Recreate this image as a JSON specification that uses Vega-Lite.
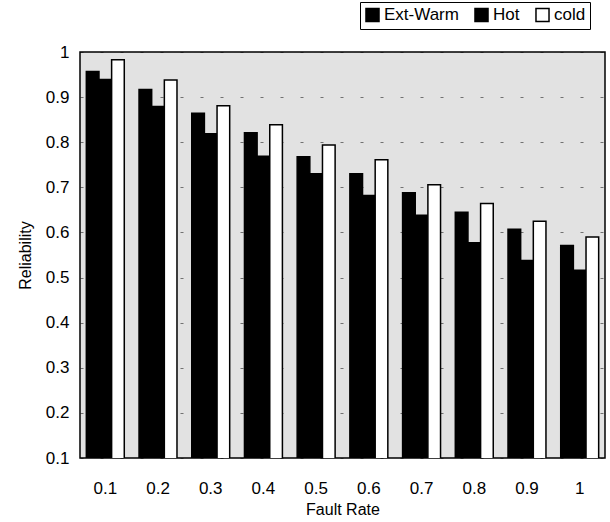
{
  "$schema": "https://vega.github.io/schema/vega-lite/v6.json",
  "width": 525,
  "height": 406,
  "autosize": {"type": "none"},
  "padding": {"left": 80, "top": 52, "right": 5, "bottom": 64},
  "background": "white",
  "config": {
    "font": "Liberation Sans",
    "view": {"stroke": "black", "strokeWidth": 1.5, "fill": "#e2e2e2"}
  },
  "data": {
    "values": [
      {"rate": "0.1", "series": "Ext-Warm", "rel": 0.957},
      {"rate": "0.1", "series": "Hot", "rel": 0.939},
      {"rate": "0.1", "series": "cold", "rel": 0.983},
      {"rate": "0.2", "series": "Ext-Warm", "rel": 0.917},
      {"rate": "0.2", "series": "Hot", "rel": 0.879},
      {"rate": "0.2", "series": "cold", "rel": 0.938},
      {"rate": "0.3", "series": "Ext-Warm", "rel": 0.864},
      {"rate": "0.3", "series": "Hot", "rel": 0.819},
      {"rate": "0.3", "series": "cold", "rel": 0.881},
      {"rate": "0.4", "series": "Ext-Warm", "rel": 0.821},
      {"rate": "0.4", "series": "Hot", "rel": 0.769},
      {"rate": "0.4", "series": "cold", "rel": 0.839},
      {"rate": "0.5", "series": "Ext-Warm", "rel": 0.768},
      {"rate": "0.5", "series": "Hot", "rel": 0.730},
      {"rate": "0.5", "series": "cold", "rel": 0.794},
      {"rate": "0.6", "series": "Ext-Warm", "rel": 0.730},
      {"rate": "0.6", "series": "Hot", "rel": 0.682},
      {"rate": "0.6", "series": "cold", "rel": 0.761},
      {"rate": "0.7", "series": "Ext-Warm", "rel": 0.688},
      {"rate": "0.7", "series": "Hot", "rel": 0.638},
      {"rate": "0.7", "series": "cold", "rel": 0.706},
      {"rate": "0.8", "series": "Ext-Warm", "rel": 0.645},
      {"rate": "0.8", "series": "Hot", "rel": 0.577},
      {"rate": "0.8", "series": "cold", "rel": 0.664},
      {"rate": "0.9", "series": "Ext-Warm", "rel": 0.607},
      {"rate": "0.9", "series": "Hot", "rel": 0.538},
      {"rate": "0.9", "series": "cold", "rel": 0.625},
      {"rate": "1", "series": "Ext-Warm", "rel": 0.571},
      {"rate": "1", "series": "Hot", "rel": 0.516},
      {"rate": "1", "series": "cold", "rel": 0.590}
    ]
  },
  "mark": {"type": "bar", "stroke": "black", "strokeWidth": 1.5, "clip": true},
  "encoding": {
    "x": {
      "field": "rate", "type": "nominal", "sort": null,
      "scale": {"paddingInner": 0.28, "paddingOuter": 0.12},
      "axis": {
        "title": "Fault Rate", "labelAngle": 0, "ticks": false, "domain": false,
        "labelFontSize": 17, "labelPadding": 22, "labelColor": "black",
        "titleFontSize": 16, "titleFontWeight": "normal", "titleColor": "black", "titlePadding": 5
      }
    },
    "xOffset": {"field": "series", "type": "nominal", "scale": {"paddingInner": 0, "paddingOuter": 0}},
    "y": {
      "field": "rel", "type": "quantitative",
      "scale": {"domain": [0.1, 1], "nice": false, "zero": false},
      "axis": {
        "title": "Reliability", "values": [0.1,0.2,0.3,0.4,0.5,0.6,0.7,0.8,0.9,1],
        "format": ".1~f", "ticks": false, "domain": false,
        "labelFontSize": 17, "labelPadding": 11, "labelColor": "black",
        "titleFontSize": 16, "titleFontWeight": "normal", "titleColor": "black", "titlePadding": 12,
        "grid": true, "gridColor": "black", "gridOpacity": 0.5, "gridDash": [3, 17]
      }
    },
    "fill": {
      "field": "series", "type": "nominal",
      "scale": {"domain": ["Ext-Warm", "Hot", "cold"], "range": ["black", "black", "white"]},
      "legend": {
        "title": null, "orient": "none", "direction": "horizontal",
        "legendX": 280, "legendY": -50,
        "symbolType": "square", "symbolSize": 170, "symbolStrokeColor": "black", "symbolStrokeWidth": 1.5,
        "labelFontSize": 17, "labelColor": "black", "columnPadding": 12, "labelOffset": 3,
        "strokeColor": "black", "padding": 4, "fillColor": "white"
      }
    }
  }
}
